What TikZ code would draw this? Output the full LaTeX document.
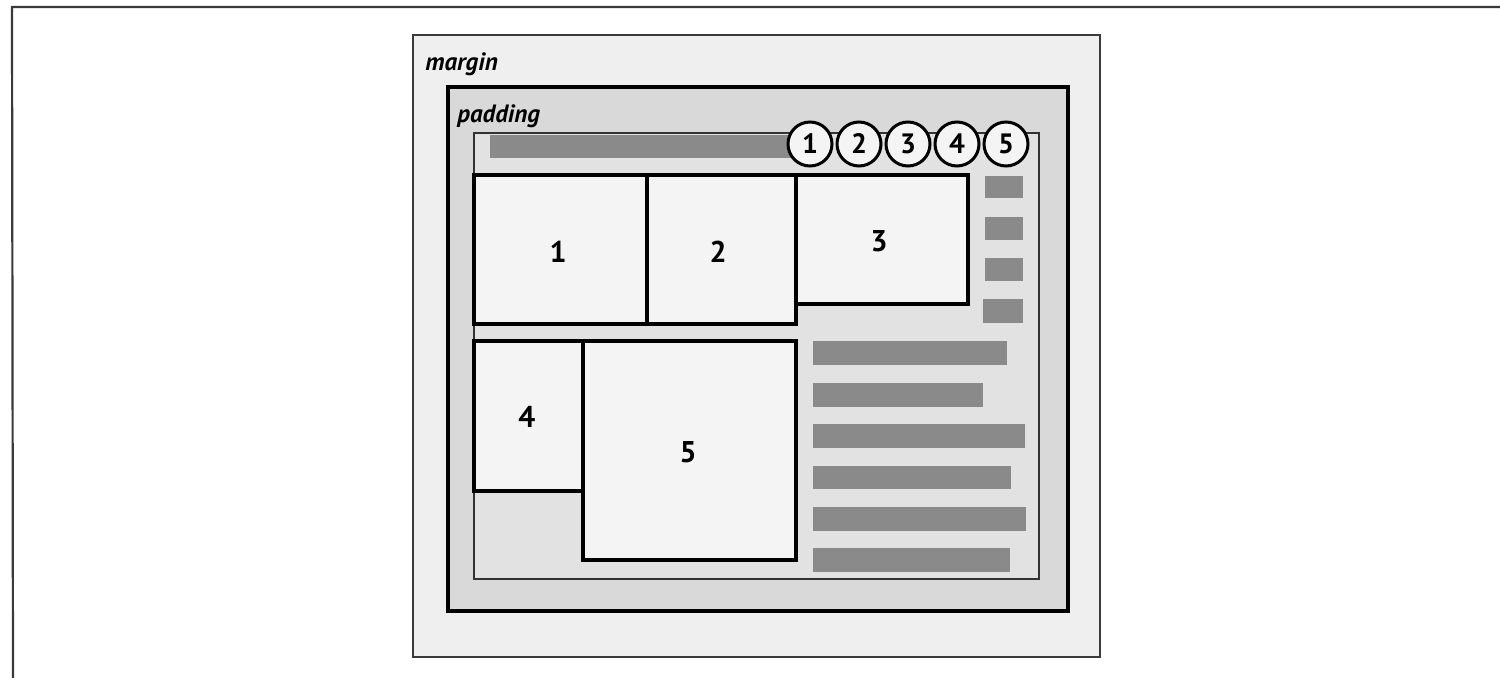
\documentclass[tikz,border=0pt]{standalone}
\usepackage{fontspec}
\setmainfont{PT Sans}
\definecolor{marginfill}{HTML}{EFEFEF}
\definecolor{paddingfill}{HTML}{D9D9D9}
\definecolor{contentfill}{HTML}{E2E2E2}
\definecolor{boxfill}{HTML}{F4F4F4}
\definecolor{barfill}{HTML}{8A8A8A}
\definecolor{frameline}{HTML}{3A3A3A}
\begin{document}
\begin{tikzpicture}[x=0.5pt,y=-0.5pt,
  marginbox/.style={fill=marginfill,draw=frameline,line width=1pt},
  paddingbox/.style={fill=paddingfill,draw=black,line width=1.8pt},
  contentbox/.style={fill=contentfill,draw=black!80,line width=0.9pt},
  blockbox/.style={fill=boxfill,draw=black,line width=1.7pt},
  bar/.style={fill=barfill,draw=none},
  numlabel/.style={font=\fontsize{15}{15}\selectfont\bfseries,inner sep=0pt},
  arealabel/.style={font=\fontsize{12.5}{13}\selectfont\bfseries\itshape,inner sep=0pt,anchor=base west},
  numcircle/.style={circle,fill=boxfill,draw=black,line width=1.5pt,minimum size=22pt,inner sep=0pt,font=\fontsize{14}{14}\selectfont\bfseries}]
\useasboundingbox (0,0) rectangle (1500,678);
\fill[white] (0,0) rectangle (1500,678);
% outer frame
\coordinate (frameTR) at (1500,7);
\coordinate (frameTL) at (12,7);
\coordinate (frameBL) at (13,678);
\draw[frameline,line width=1.1pt] (frameTR) -- (frameTL) -- (frameBL);
% margin / padding / content
\path[marginbox] (413,35) rectangle (1100,657);
\node[arealabel] (marginlbl) at (425,71) {margin};
\path[paddingbox] (448,87) rectangle (1068,611);
\node[arealabel] (paddinglbl) at (457,123) {padding};
\path[contentbox] (474,133) rectangle (1039,579);
% header bar
\path[bar] (490,135) rectangle (800,158);
% circles
\foreach \i/\x in {1/810,2/859,3/908,4/957,5/1006}{
  \node[numcircle] (c\i) at (\x,144) {\i};
}
% blocks
\path[blockbox] (474,175) rectangle (647,324);
\node[numlabel] (n1) at (558,252) {1};
\path[blockbox] (647,175) rectangle (796,324);
\node[numlabel] (n2) at (718,252) {2};
\path[blockbox] (796,175) rectangle (968,304);
\node[numlabel] (n3) at (879,241) {3};
\path[blockbox] (474,341) rectangle (583,491);
\node[numlabel] (n4) at (527,417) {4};
\path[blockbox] (583,341) rectangle (796,560);
\node[numlabel] (n5) at (688,452) {5};
% small sidebar rectangles
\path[bar] (985,176) rectangle (1023,198);
\path[bar] (985,217) rectangle (1023,240);
\path[bar] (985,258) rectangle (1023,281);
\path[bar] (983,299) rectangle (1023,323);
% text bars
\path[bar] (813,341) rectangle (1007,365);
\path[bar] (813,383) rectangle (983,407);
\path[bar] (813,424) rectangle (1025,448);
\path[bar] (813,466) rectangle (1011,489);
\path[bar] (813,507) rectangle (1026,531);
\path[bar] (813,548) rectangle (1010,572);
\end{tikzpicture}
\end{document}
